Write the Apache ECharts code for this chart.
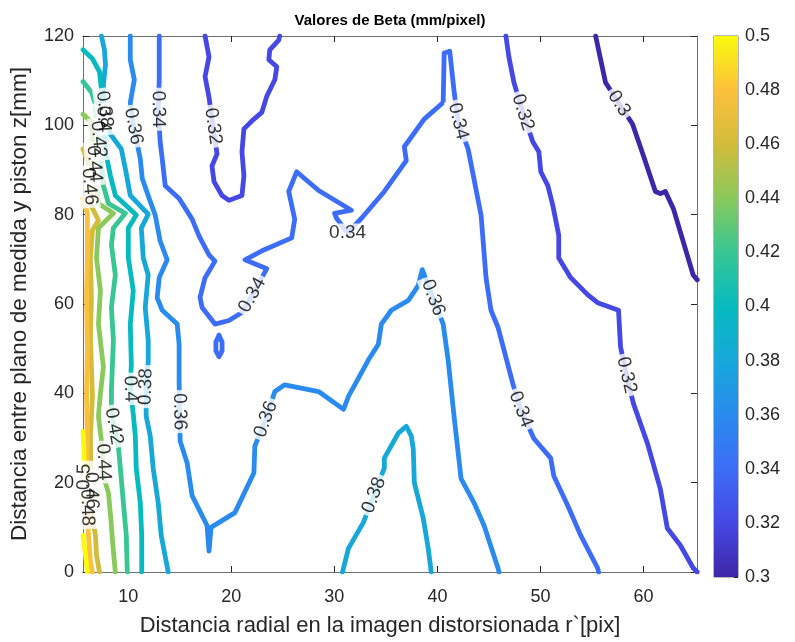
<!DOCTYPE html>
<html>
<head>
<meta charset="utf-8">
<script src="https://cdn.jsdelivr.net/npm/echarts@6/dist/echarts.min.js"></script>
<style>
  html, body { margin: 0; padding: 0; background: #fff; }
  #chart { width: 795px; height: 642px; }
</style>
</head>
<body>
<div id="chart"></div>
<script>
// Contour levels of beta (mm/pixel) and axis ticks
const levels = [0.30, 0.32, 0.34, 0.36, 0.38, 0.40, 0.42, 0.44, 0.46, 0.48, 0.50];
const xTicks = [10, 20, 30, 40, 50, 60];
const yTicks = [0, 20, 40, 60, 80, 100, 120];
const xRange = [5.6, 65.2];
const yRange = [0, 120];

// Contour polylines: [radial distance r` (pix), z (mm)]
const c030 = [[55.36,120],[56.32,109.6],[57.63,104.9],[58.94,100.3],[60.0,93.2],[61.16,85.2],[61.64,84.7],[62.13,85.2],[62.9,81.4],[64.83,66.5],[65.22,65.4]];
const c032a = [[17.45,120],[17.83,115.3],[17.45,110.9],[17.83,106.3],[18.22,99.8],[18.61,93.6],[18.12,90.9],[18.32,87.4],[19.09,84.3],[19.77,83.2],[21.03,84.3],[21.22,88.7],[21.03,94.1],[21.22,99.2],[22.19,101.4],[22.96,102.9],[23.44,106.5],[24.22,110.2],[24.41,113.1],[23.64,114.7],[23.73,116.9],[24.6,119.1],[24.7,120]];
const c032b = [[46.65,120],[46.94,115.3],[47.43,109.6],[48.3,102.9],[49.26,96.3],[49.85,94.1],[50.04,89.6],[50.72,86.5],[51.2,82.1],[51.78,75.4],[51.78,70.3],[52.94,65.9],[54.58,62.1],[55.55,60.3],[57.58,58.6],[57.78,50.4],[58.36,44.1],[59.03,37.7],[60.39,28.8],[61.64,18.6],[62.32,9.8],[63.58,6.0],[64.83,0.9],[65.22,0]];
const c034a = [[13.0,120],[13.0,114.7],[13.0,110.2],[12.9,103.6],[13.09,96.3],[13.29,92.5],[13.58,86.5],[14.93,83.6],[16.19,79.0],[16.87,75.2],[17.83,71.0],[18.41,69.6],[17.45,65.9],[16.96,61.5],[17.16,59.2],[18.41,55.5],[19.77,56.3],[21.03,58.1],[22.04,62.0],[23.44,67.9],[21.32,69.9],[23.15,72.1],[25.86,74.8],[26.15,79.0],[25.57,85.2],[26.34,89.6],[28.47,85.4],[31.66,81.0],[30.02,80.3],[30.21,79.2],[31.28,75.9],[32.63,79.2],[34.85,85.2],[36.98,92.1],[36.79,95.2],[38.72,101.4],[40.56,105.1],[40.66,116.2],[41.2,116.6],[41.33,116.2],[41.62,107.6],[42.01,100.9],[42.98,94.7],[44.24,79.9],[44.72,65.9],[45.2,58.6],[45.88,54.8],[47.33,42.1],[48.1,36.4],[49.36,29.9],[51.0,25.5],[51.3,21.5],[52.65,14.9],[53.91,8.2],[55.55,0.9],[55.65,0]];
const c034b = [[18.8,53.0],[19.1,51.5],[19.1,49.5],[18.8,48.2],[18.5,49.5],[18.5,51.5],[18.8,53.0]];
const c036 = [[10.19,120],[10.19,114.7],[10.58,110.2],[10.19,105.1],[10.5,99.8],[11.16,92.5],[11.35,88.1],[12.03,83.6],[12.61,79.9],[13.09,74.1],[13.77,69.9],[13.0,65.9],[12.8,61.4],[13.29,58.6],[14.74,55.5],[14.93,51.0],[14.93,42.6],[14.98,35.9],[15.03,29.3],[15.71,24.4],[16.19,17.1],[17.64,10.4],[17.83,4.7],[18.03,10.0],[20.35,13.3],[22.19,22.2],[22.28,28.2],[23.35,34.2],[24.22,40.4],[25.18,41.9],[28.47,40.4],[30.89,36.4],[31.37,39.3],[33.31,47.5],[34.27,51.0],[34.56,55.5],[35.53,58.6],[37.18,60.8],[38.14,64.1],[38.53,67.7],[39.59,61.4],[40.56,55.5],[41.04,47.5],[41.62,34.8],[42.3,20.9],[43.56,15.5],[44.53,10.4],[45.88,0.9],[45.98,0]];
const c038a = [[7.39,120],[7.68,116.9],[7.78,113.6],[7.58,109.1],[7.68,103.6],[8.26,98.0],[9.32,94.7],[9.71,90.3],[10.19,84.3],[11.93,80.1],[11.26,77.0],[11.45,70.3],[11.93,66.5],[11.64,59.2],[11.93,51.9],[11.93,47.0],[11.7,41.5],[11.74,34.8],[12.13,30.4],[12.42,23.1],[12.9,15.5],[13.19,8.2],[13.87,0]];
const c038b = [[30.79,0],[31.37,5.3],[32.82,11.1],[33.84,17.2],[34.85,23.3],[34.85,25.5],[36.21,31.1],[36.98,32.6],[37.47,30.4],[37.66,27.5],[37.76,20.0],[38.63,12.0],[39.11,5.3],[39.4,0]];
const c040 = [[5.6,116.9],[6.52,114.9],[7.2,112.0],[7.39,108.0],[7.58,101.4],[7.87,93.2],[8.26,88.7],[8.74,84.3],[10.77,79.9],[10.0,77.0],[10.0,70.3],[10.48,63.0],[10.19,55.5],[10.29,46.6],[10.19,41.0],[10.48,35.3],[10.68,30.4],[10.77,23.1],[11.16,15.5],[11.3,8.2],[11.3,0]];
const c042 = [[5.6,109.8],[6.42,107.4],[6.81,104.7],[7.1,96.9],[7.39,90.3],[7.58,86.5],[8.07,82.5],[9.71,80.3],[8.55,77.0],[8.36,73.2],[8.74,66.5],[8.36,59.2],[8.55,51.9],[8.36,40.8],[8.36,37.0],[8.6,32.6],[9.03,28.2],[9.23,23.1],[9.52,15.5],[9.8,8.2],[9.9,0]];
const c044 = [[5.6,102.5],[6.32,100.9],[6.52,96.9],[6.7,91.4],[6.91,85.8],[7.1,82.5],[8.55,80.3],[7.1,77.0],[6.91,70.3],[7.29,63.0],[7.1,55.5],[7.58,45.9],[7.29,39.9],[7.1,34.8],[7.39,29.3],[7.6,24.6],[7.58,21.5],[8.07,17.7],[8.3,12.0],[8.5,6.0],[8.74,0]];
const c046 = [[5.6,94.7],[6.13,91.4],[6.23,86.3],[6.52,81.4],[7.1,78.7],[6.52,76.5],[6.32,70.3],[6.42,61.4],[6.32,52.6],[6.52,39.3],[6.32,30.4],[6.42,18.2],[6.5,12.2],[6.81,8.2],[6.91,3.8],[7.2,0]];
const c048 = [[5.6,83.6],[6.03,80.3],[6.03,70.3],[5.94,61.4],[6.03,50.4],[5.94,39.3],[6.03,30.4],[5.94,21.5],[6.0,14.4],[6.13,8.2],[6.32,2.2],[6.5,0]];
const c050a = [[5.6,31.5],[5.7,27.0],[5.72,21.3],[5.6,16.0]];
const c050b = [[5.6,8.2],[5.84,3.8],[6.03,0]];

// Inline contour labels: [level, r, z] (each sits on a vertex of its contour)
const contourLabels = [
  [0.30, 57.63, 104.9],
  [0.32, 18.22, 99.8], [0.32, 48.3, 102.9], [0.32, 58.36, 44.1],
  [0.34, 12.9, 103.6], [0.34, 22.04, 62.0], [0.34, 31.28, 75.9], [0.34, 42.01, 100.9], [0.34, 48.1, 36.4],
  [0.36, 10.5, 99.8], [0.36, 14.98, 35.9], [0.36, 23.35, 34.2], [0.36, 39.59, 61.4],
  [0.38, 7.68, 103.6], [0.38, 11.7, 41.5], [0.38, 33.84, 17.2],
  [0.40, 7.58, 101.4], [0.40, 10.19, 41.0],
  [0.42, 7.1, 96.9], [0.42, 8.6, 32.6],
  [0.44, 6.7, 91.4], [0.44, 7.6, 24.6],
  [0.46, 6.23, 86.3], [0.46, 6.42, 18.2],
  [0.48, 6.0, 14.4],
  [0.50, 5.72, 21.3]
];

const contourLines = [
  [0.30, c030], [0.32, c032a], [0.32, c032b], [0.34, c034a], [0.34, c034b],
  [0.36, c036], [0.38, c038a], [0.38, c038b], [0.40, c040], [0.42, c042],
  [0.44, c044], [0.46, c046], [0.48, c048], [0.50, c050a], [0.50, c050b]
];

// Parula-style colormap, one stop per contour level (0.30 .. 0.50)
const parula = ['#3E26A8', '#4648E4', '#3C6DF6', '#2A8BEE', '#17A8DA', '#07BABF',
                '#38C693', '#8AC95C', '#D3BC3B', '#FCC03C', '#F9FB0E'];
const cMin = 0.30, cMax = 0.50;
function levelColor(v) {
  const i = Math.round((v - cMin) / (cMax - cMin) * (parula.length - 1));
  return parula[Math.max(0, Math.min(parula.length - 1, i))];
}
const fmt = v => String(parseFloat((+v).toFixed(2)));

const FONT = 'Arial, "Liberation Sans", Helvetica, sans-serif';
const AX = '#262626';
const FRAME = '#6f6f6f';
const CLEAR = 'rgba(255,255,255,0)';

const lineSeries = contourLines.map(([lv, pts]) => ({
  type: 'line',
  xAxisIndex: 0, yAxisIndex: 0,
  data: pts,
  symbol: 'none',
  showSymbol: false,
  silent: true,
  z: 2,
  lineStyle: { color: levelColor(lv), width: 4.8, cap: 'round', join: 'round' }
}));

function labelData(angleOf) {
  return contourLabels.map(([lv, x, y]) => ({
    value: [x, y, lv],
    label: { rotate: angleOf ? angleOf(lv, x, y) : 0 }
  }));
}

function labelSeries(data) {
  const base = {
    show: true, position: 'inside', formatter: p => fmt(p.value[2]),
    fontFamily: FONT, fontSize: 19, padding: [0, 3],
    textBorderWidth: 0, textShadowBlur: 0
  };
  return [
    { // white gap under each label
      type: 'scatter', xAxisIndex: 0, yAxisIndex: 0, data: data,
      symbol: 'circle', symbolSize: 1, itemStyle: { color: CLEAR }, silent: true, z: 3,
      label: Object.assign({}, base, { color: CLEAR, backgroundColor: '#ffffff' })
    },
    { // label text
      type: 'scatter', xAxisIndex: 0, yAxisIndex: 0, data: data,
      symbol: 'circle', symbolSize: 1, itemStyle: { color: CLEAR }, silent: true, z: 10,
      label: Object.assign({}, base, { color: '#000000' })
    }
  ];
}

const cbStops = parula.map((c, i) => ({ offset: i / (parula.length - 1), color: c }));

const option = {
  animation: false,
  backgroundColor: '#ffffff',
  title: {
    text: 'Valores de Beta (mm/pixel)',
    left: 385, top: 8, textAlign: 'center',
    textStyle: { fontFamily: FONT, fontSize: 15, fontWeight: 'bold', color: '#000' }
  },
  grid: [
    { left: 81, top: 36, right: 98, bottom: 65 },
    { left: 714, top: 36, width: 24, height: 541, show: true, borderColor: FRAME, borderWidth: 1 }
  ],
  xAxis: [
    {
      type: 'value', gridIndex: 0, min: xRange[0], max: xRange[1], position: 'bottom',
      name: 'Distancia radial en la imagen distorsionada r`[pix]',
      nameLocation: 'middle', nameGap: 43,
      nameTextStyle: { fontFamily: FONT, fontSize: 22, color: AX, padding: [0, 20, 0, 0] },
      axisLine: { show: true, onZero: false, lineStyle: { color: FRAME, width: 1 } },
      axisTick: { show: true, inside: true, length: 6, customValues: xTicks, lineStyle: { color: AX } },
      axisLabel: { customValues: xTicks, fontFamily: FONT, fontSize: 18, color: AX, margin: 16 },
      splitLine: { show: false }
    },
    {
      type: 'value', gridIndex: 0, min: xRange[0], max: xRange[1], position: 'top',
      axisLine: { show: true, onZero: false, lineStyle: { color: FRAME, width: 1 } },
      axisTick: { show: true, inside: true, length: 6, customValues: xTicks, lineStyle: { color: AX } },
      axisLabel: { show: false },
      splitLine: { show: false }
    },
    {
      type: 'category', gridIndex: 1, data: ['cb'], show: false
    }
  ],
  yAxis: [
    {
      type: 'value', gridIndex: 0, min: yRange[0], max: yRange[1], interval: 20, position: 'left',
      name: 'Distancia entre plano de medida y piston z[mm]',
      nameLocation: 'middle', nameGap: 52,
      nameTextStyle: { fontFamily: FONT, fontSize: 22.5, color: AX },
      axisLine: { show: true, onZero: false, lineStyle: { color: FRAME, width: 1 } },
      axisTick: { show: true, inside: true, length: 6, lineStyle: { color: AX } },
      axisLabel: { fontFamily: FONT, fontSize: 18, color: AX, margin: 9 },
      splitLine: { show: false }
    },
    {
      type: 'value', gridIndex: 0, min: yRange[0], max: yRange[1], interval: 20, position: 'right',
      axisLine: { show: true, onZero: false, lineStyle: { color: FRAME, width: 1 } },
      axisTick: { show: true, inside: true, length: 6, lineStyle: { color: AX } },
      axisLabel: { show: false },
      splitLine: { show: false }
    },
    {
      type: 'value', gridIndex: 1, min: cMin, max: cMax, interval: 0.02, position: 'right',
      axisLine: { show: false },
      axisTick: { show: true, inside: true, length: 4, lineStyle: { color: AX } },
      axisLabel: { fontFamily: FONT, fontSize: 18, color: AX, margin: 7, formatter: v => fmt(v) },
      splitLine: { show: false }
    }
  ],
  series: [
    ...lineSeries,
    ...labelSeries(labelData(null)),
    { // colorbar: transparent base up to the lowest level
      type: 'bar', xAxisIndex: 2, yAxisIndex: 2, stack: 'cb', data: [cMin],
      barWidth: '100%', silent: true, itemStyle: { color: CLEAR }
    },
    { // colorbar gradient spanning the level range
      type: 'bar', xAxisIndex: 2, yAxisIndex: 2, stack: 'cb', data: [cMax - cMin],
      barWidth: '100%', silent: true,
      itemStyle: { color: new echarts.graphic.LinearGradient(0, 1, 0, 0, cbStops) }
    }
  ]
};

const chart = echarts.init(document.getElementById('chart'), null, { renderer: 'canvas' });
chart.setOption(option);

// Orient each inline label along its contour, using the on-screen direction
function labelAngle(level, x, y) {
  let best = null, bd = Infinity;
  contourLines.forEach(([lv, pts]) => {
    if (Math.abs(lv - level) > 1e-9) return;
    pts.forEach((p, i) => {
      const d = (p[0] - x) ** 2 + (p[1] - y) ** 2;
      if (d < bd) { bd = d; best = [pts, i]; }
    });
  });
  if (!best) return 0;
  const [pts, i] = best;
  const a = chart.convertToPixel({ gridIndex: 0 }, pts[Math.max(0, i - 1)]);
  const b = chart.convertToPixel({ gridIndex: 0 }, pts[Math.min(pts.length - 1, i + 1)]);
  let ang = Math.atan2(-(b[1] - a[1]), b[0] - a[0]) * 180 / Math.PI;
  while (ang >= 90) ang -= 180;
  while (ang < -90) ang += 180;
  return ang;
}

const oriented = labelSeries(labelData(labelAngle));
const nLines = lineSeries.length;
const updated = option.series.slice();
updated[nLines] = oriented[0];
updated[nLines + 1] = oriented[1];
chart.setOption({ series: updated });
</script>
</body>
</html>
